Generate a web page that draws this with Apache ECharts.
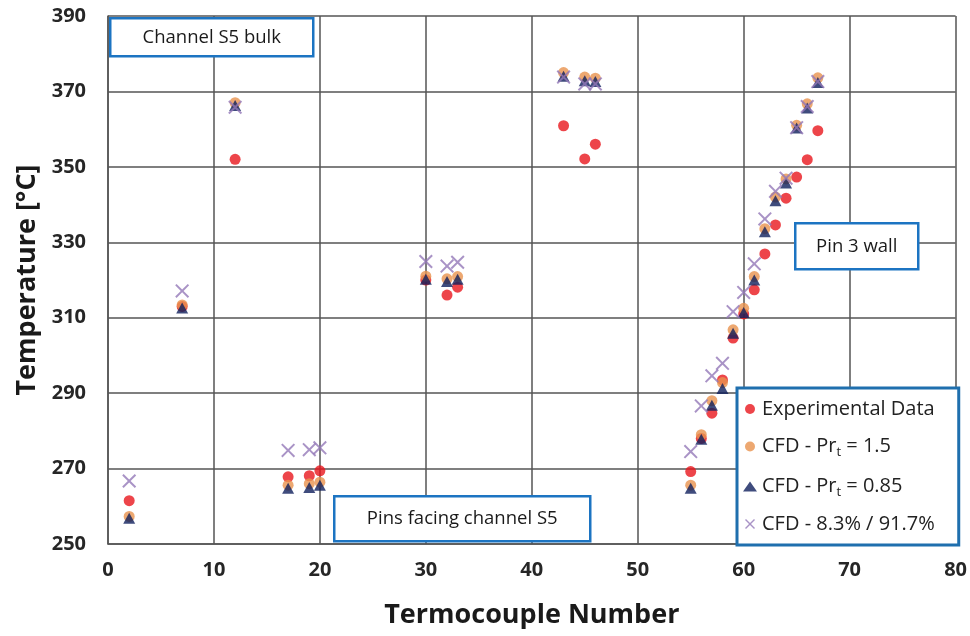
<!DOCTYPE html>
<html>
<head>
<meta charset="utf-8">
<script src="https://cdn.jsdelivr.net/npm/echarts@6/dist/echarts.min.js"></script>
<style>
  html, body { margin: 0; padding: 0; background: #fff; }
  #main { width: 970px; height: 636px; }
</style>
</head>
<body>
<div id="main"></div>
<script>
// termocouple numbers
const tcNumbers = [2, 7, 12, 17, 19, 20, 30, 32, 33, 43, 45, 46, 55, 56, 57, 58, 59, 60, 61, 62, 63, 64, 65, 66, 67];

// temperatures [°C]
const expData = [261.5, 313.0, 352.0, 267.8, 268.1, 269.4, 320.0, 316.0, 318.1, 360.9, 352.1, 356.0,
  269.2, 278.0, 284.7, 293.5, 304.6, 311.0, 317.4, 326.9, 334.6, 341.7, 347.3, 351.9, 359.6];
const cfdPr15 = [257.3, 313.4, 367.0, 265.6, 266.0, 266.4, 321.0, 320.3, 320.9, 375.0, 373.8, 373.5,
  265.6, 279.0, 288.0, 292.8, 306.8, 312.5, 320.9, 333.6, 342.0, 346.8, 361.0, 366.7, 373.6];
const cfdPr085 = [256.8, 312.6, 366.3, 264.8, 265.0, 265.6, 320.2, 319.6, 320.2, 374.0, 372.8, 372.6,
  264.8, 277.8, 286.8, 291.2, 305.9, 311.4, 320.0, 332.8, 341.0, 345.7, 360.3, 365.6, 372.4];
const cfdMix = [266.7, 317.1, 365.8, 274.8, 275.0, 275.5, 324.9, 323.7, 324.7, 373.8, 372.0, 372.0,
  274.5, 286.6, 294.6, 297.9, 311.6, 316.7, 324.3, 336.2, 343.5, 347.0, 360.4, 366.0, 372.6];

const xTicks = [0, 10, 20, 30, 40, 50, 60, 70, 80];
const yTicks = [250, 270, 290, 310, 330, 350, 370, 390];

const seriesNames = ['Experimental Data', 'CFD - Pr_t = 1.5', 'CFD - Pr_t = 0.85', 'CFD - 8.3% / 91.7%'];

const FONT = '"Open Sans", Lato, sans-serif';
const BOX_BLUE = '#1C74C2';
const crossPath = 'path://M0,1L1,0L5,4L9,0L10,1L6,5L10,9L9,10L5,6L1,10L0,9L4,5Z';

function pairs(vals) {
  return tcNumbers.map((t, i) => [t, vals[i]]);
}

// text boxes on top of the plot
function labelBox(x, y, w, h, text) {
  return {
    type: 'group',
    left: x,
    top: y,
    z: 100,
    children: [
      {
        type: 'rect',
        z: 100,
        shape: { x: 0, y: 0, width: w, height: h },
        style: { fill: '#fff', stroke: BOX_BLUE, lineWidth: 2.5 }
      },
      {
        type: 'text',
        z: 101,
        x: w / 2,
        y: h / 2,
        style: {
          text: text,
          fill: '#1a1a1a',
          font: '18.5px ' + FONT,
          align: 'center',
          verticalAlign: 'middle'
        }
      }
    ]
  };
}

const chart = echarts.init(document.getElementById('main'));

const option = {
  backgroundColor: '#fff',
  animation: false,
  grid: { left: 108, top: 16, right: 11, bottom: 92 },
  xAxis: {
    type: 'value',
    min: xTicks[0],
    max: xTicks[xTicks.length - 1],
    interval: 10,
    name: 'Termocouple Number',
    nameLocation: 'middle',
    nameGap: 58,
    nameTextStyle: { fontFamily: FONT, fontWeight: 'bold', fontSize: 27, color: '#1a1a1a' },
    axisLine: { show: true, lineStyle: { color: '#555', width: 1.5 } },
    axisTick: { show: false },
    axisLabel: { margin: 16, fontFamily: FONT, fontWeight: 'bold', fontSize: 20, color: '#262626' },
    splitLine: { show: true, lineStyle: { color: '#555', width: 1.5 } }
  },
  yAxis: {
    type: 'value',
    min: yTicks[0],
    max: yTicks[yTicks.length - 1],
    interval: 20,
    name: 'Temperature [°C]',
    nameLocation: 'middle',
    nameGap: 62,
    nameTextStyle: { fontFamily: FONT, fontWeight: 'bold', fontSize: 27, color: '#1a1a1a' },
    axisLine: { show: true, lineStyle: { color: '#555', width: 1.5 } },
    axisTick: { show: false },
    axisLabel: { margin: 22, fontFamily: FONT, fontWeight: 'bold', fontSize: 20, color: '#262626' },
    splitLine: { show: true, lineStyle: { color: '#555', width: 1.5 } }
  },
  legend: {
    orient: 'vertical',
    left: 737,
    top: 388,
    padding: [11, 24, 11, 6],
    itemWidth: 14,
    itemHeight: 10,
    itemGap: 15,
    backgroundColor: '#fff',
    borderColor: '#1F6FAE',
    borderWidth: 3,
    data: seriesNames,
    formatter: function (name) {
      if (name.indexOf('Pr_t') >= 0) {
        const parts = name.split('Pr_t');
        return '{a|' + parts[0] + 'Pr}{s|t}{a|' + parts[1] + '}';
      }
      return '{a|' + name + '}';
    },
    textStyle: {
      color: '#222',
      fontFamily: FONT,
      fontSize: 20,
      rich: {
        a: { fontFamily: FONT, fontSize: 20, color: '#222', lineHeight: 23 },
        s: { fontFamily: FONT, fontSize: 13, color: '#222', lineHeight: 23, padding: [12, 0, 0, 0] }
      }
    }
  },
  graphic: [
    labelBox(109, 17, 203, 38, 'Channel S5 bulk'),
    labelBox(794, 222, 123, 46, 'Pin 3 wall'),
    labelBox(333, 495, 256, 45, 'Pins facing channel S5')
  ],
  series: [
    {
      name: seriesNames[0],
      type: 'scatter',
      symbol: 'circle',
      symbolSize: 11,
      itemStyle: { color: '#E8161D' },
      data: pairs(expData),
      z: 2
    },
    {
      name: seriesNames[1],
      type: 'scatter',
      symbol: 'circle',
      symbolSize: 11,
      itemStyle: { color: '#E8924E' },
      data: pairs(cfdPr15),
      z: 3
    },
    {
      name: seriesNames[2],
      type: 'scatter',
      symbol: 'triangle',
      symbolSize: [12, 11],
      itemStyle: { color: '#0F1F5C' },
      data: pairs(cfdPr085),
      z: 4
    },
    {
      name: seriesNames[3],
      type: 'scatter',
      symbol: crossPath,
      symbolSize: 14,
      itemStyle: { color: '#9478B8' },
      data: pairs(cfdMix),
      z: 5
    }
  ]
};

chart.setOption(option);
</script>
</body>
</html>
